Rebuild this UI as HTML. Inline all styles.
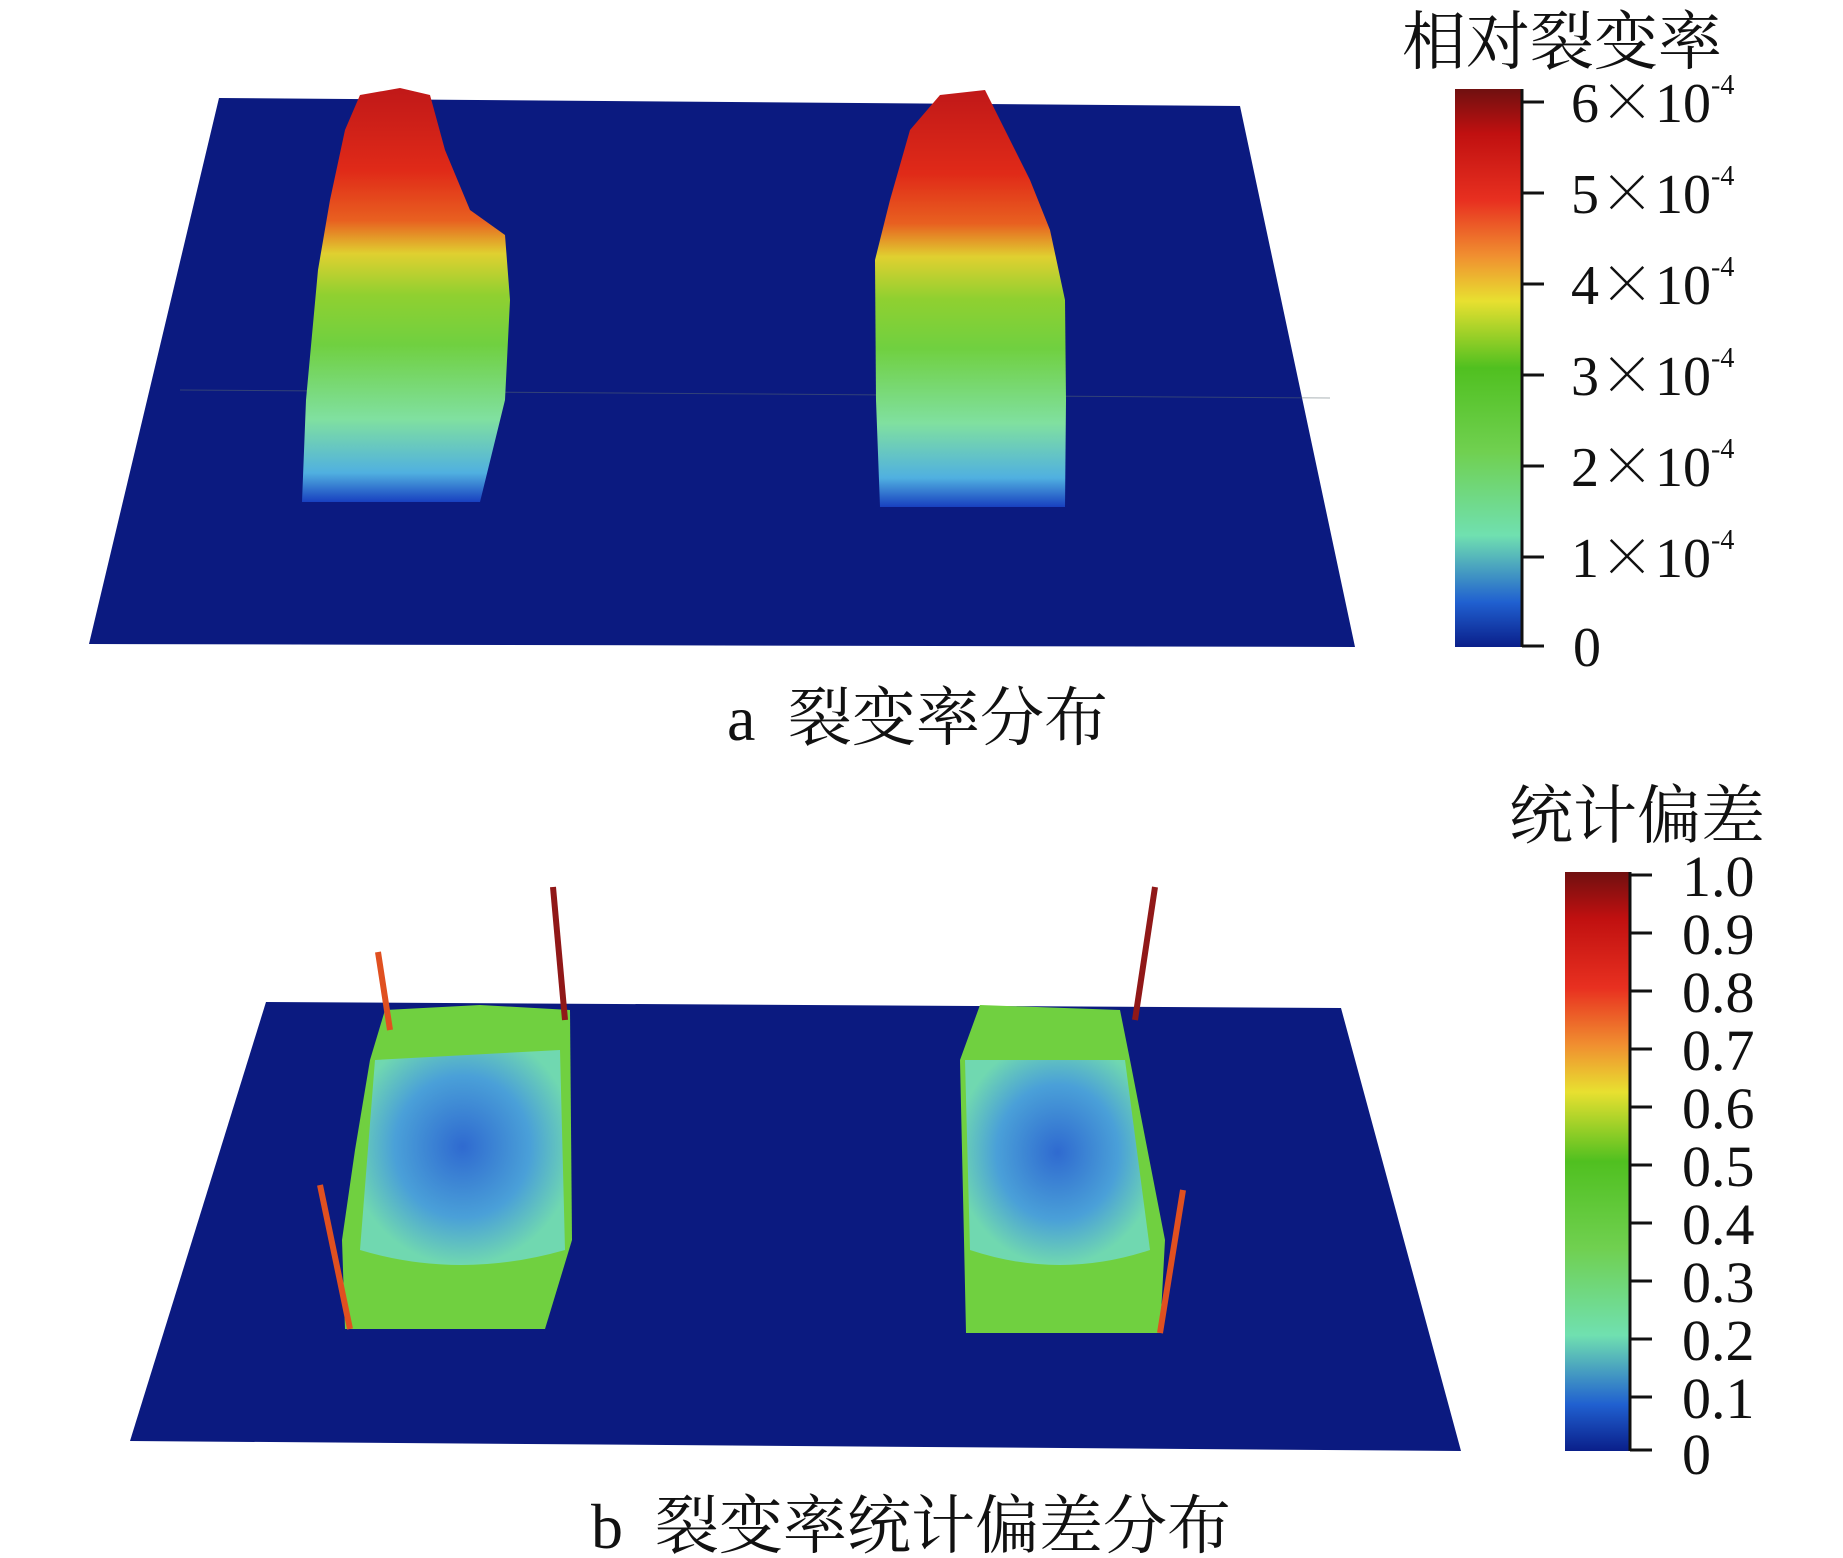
<!DOCTYPE html>
<html><head><meta charset="utf-8"><style>
html,body{margin:0;padding:0;background:#fff;}
svg{display:block;}
text{font-family:"Liberation Serif","Noto Serif CJK SC",serif;fill:#111;}
.x{font-family:"Noto Serif CJK SC",serif;}
</style></head><body>
<svg width="1843" height="1558" viewBox="0 0 1843 1558" xmlns="http://www.w3.org/2000/svg">
<defs>
<linearGradient id="jet" x1="0" y1="1" x2="0" y2="0">
<stop offset="0" stop-color="#0a1f8a"/><stop offset="0.08" stop-color="#2060d0"/>
<stop offset="0.2" stop-color="#70e0b0"/><stop offset="0.35" stop-color="#70d050"/>
<stop offset="0.5" stop-color="#50c020"/><stop offset="0.62" stop-color="#e8e030"/>
<stop offset="0.7" stop-color="#f09030"/><stop offset="0.8" stop-color="#e83020"/>
<stop offset="0.92" stop-color="#c01010"/><stop offset="1" stop-color="#701010"/>
</linearGradient>
<linearGradient id="blockA" x1="0" y1="1" x2="0" y2="0">
<stop offset="0" stop-color="#1840c0"/><stop offset="0.07" stop-color="#50b0e0"/>
<stop offset="0.2" stop-color="#80e0a0"/><stop offset="0.38" stop-color="#70d040"/>
<stop offset="0.5" stop-color="#90d030"/><stop offset="0.6" stop-color="#e0d030"/>
<stop offset="0.68" stop-color="#e86020"/><stop offset="0.8" stop-color="#e02a18"/>
<stop offset="1" stop-color="#c01818"/>
</linearGradient>
<radialGradient id="bowl" cx="0.5" cy="0.45" r="0.55">
<stop offset="0" stop-color="#2f6ad0"/><stop offset="0.6" stop-color="#4aa0d8"/>
<stop offset="1" stop-color="#70d8b0"/>
</radialGradient>
</defs>
<polygon points="219,98 1240,106 1355,647 89,644" fill="#0b1a80"/>
<line x1="180" y1="390" x2="1330" y2="398" stroke="#5a6a70" stroke-width="1" opacity="0.5"/>
<path d="M302,502 L306,400 L318,270 L330,200 L345,130 L360,95 L400,88 L430,95 L445,150 L470,210 L505,235 L510,300 L505,400 L480,502 Z" fill="url(#blockA)"/>
<path d="M880,507 L876,400 L875,260 L890,200 L910,130 L940,95 L985,90 L1005,130 L1030,180 L1050,230 L1065,300 L1066,400 L1065,507 Z" fill="url(#blockA)"/>
<rect x="1455" y="89" width="67" height="558" fill="url(#jet)"/>
<line x1="1522" y1="89" x2="1522" y2="647" stroke="#111" stroke-width="3"/>
<g stroke="#111" stroke-width="3">
<line x1="1522" y1="102" x2="1544" y2="102"/><line x1="1522" y1="193" x2="1544" y2="193"/>
<line x1="1522" y1="284" x2="1544" y2="284"/><line x1="1522" y1="375" x2="1544" y2="375"/>
<line x1="1522" y1="466" x2="1544" y2="466"/><line x1="1522" y1="557" x2="1544" y2="557"/>
<line x1="1522" y1="646" x2="1544" y2="646"/></g>
<text x="1562" y="64" font-size="64" text-anchor="middle">相对裂变率</text>
<g font-size="56">
<text x="1571" y="122">6<tspan class="x">×</tspan>10<tspan font-size="28" dy="-28">-4</tspan></text>
<text x="1571" y="213">5<tspan class="x">×</tspan>10<tspan font-size="28" dy="-28">-4</tspan></text>
<text x="1571" y="304">4<tspan class="x">×</tspan>10<tspan font-size="28" dy="-28">-4</tspan></text>
<text x="1571" y="395">3<tspan class="x">×</tspan>10<tspan font-size="28" dy="-28">-4</tspan></text>
<text x="1571" y="486">2<tspan class="x">×</tspan>10<tspan font-size="28" dy="-28">-4</tspan></text>
<text x="1571" y="577">1<tspan class="x">×</tspan>10<tspan font-size="28" dy="-28">-4</tspan></text>
<text x="1573" y="666">0</text></g>
<text x="727" y="740" font-size="64">a</text>
<text x="788" y="740" font-size="64">裂变率分布</text>
<polygon points="266,1002 1341,1008 1461,1451 130,1441" fill="#0b1a80"/>
<path d="M345,1329 L342,1240 L355,1150 L370,1060 L385,1010 L480,1005 L570,1010 L572,1240 L545,1329 Z" fill="#70d040"/>
<path d="M360,1250 L375,1060 L560,1050 L565,1250 Q460,1280 360,1250 Z" fill="url(#bowl)"/>
<path d="M966,1333 L964,1240 L960,1060 L980,1005 L1120,1010 L1130,1060 L1165,1240 L1160,1333 Z" fill="#70d040"/>
<path d="M970,1250 L965,1060 L1125,1060 L1150,1250 Q1060,1280 970,1250 Z" fill="url(#bowl)"/>
<g stroke-width="6">
<line x1="378" y1="952" x2="390" y2="1030" stroke="#e05020"/>
<line x1="553" y1="887" x2="565" y2="1020" stroke="#901818"/>
<line x1="320" y1="1185" x2="350" y2="1329" stroke="#e05020"/>
<line x1="1155" y1="887" x2="1135" y2="1020" stroke="#901818"/>
<line x1="1183" y1="1190" x2="1160" y2="1333" stroke="#e05020"/></g>
<rect x="1565" y="872" width="65" height="579" fill="url(#jet)"/>
<line x1="1630" y1="872" x2="1630" y2="1451" stroke="#111" stroke-width="3"/>
<g stroke="#111" stroke-width="3">
<line x1="1630" y1="875" x2="1652" y2="875"/><line x1="1630" y1="933" x2="1652" y2="933"/>
<line x1="1630" y1="991" x2="1652" y2="991"/><line x1="1630" y1="1049" x2="1652" y2="1049"/>
<line x1="1630" y1="1107" x2="1652" y2="1107"/><line x1="1630" y1="1165" x2="1652" y2="1165"/>
<line x1="1630" y1="1223" x2="1652" y2="1223"/><line x1="1630" y1="1281" x2="1652" y2="1281"/>
<line x1="1630" y1="1339" x2="1652" y2="1339"/><line x1="1630" y1="1397" x2="1652" y2="1397"/>
<line x1="1630" y1="1450" x2="1652" y2="1450"/></g>
<text x="1637" y="838" font-size="64" text-anchor="middle">统计偏差</text>
<g font-size="58">
<text x="1682" y="896">1.0</text><text x="1682" y="954">0.9</text><text x="1682" y="1012">0.8</text>
<text x="1682" y="1070">0.7</text><text x="1682" y="1128">0.6</text><text x="1682" y="1186">0.5</text>
<text x="1682" y="1244">0.4</text><text x="1682" y="1302">0.3</text><text x="1682" y="1360">0.2</text>
<text x="1682" y="1418">0.1</text><text x="1682" y="1474">0</text></g>
<text x="591" y="1548" font-size="64">b</text>
<text x="655" y="1548" font-size="64">裂变率统计偏差分布</text>
</svg>
</body></html>
